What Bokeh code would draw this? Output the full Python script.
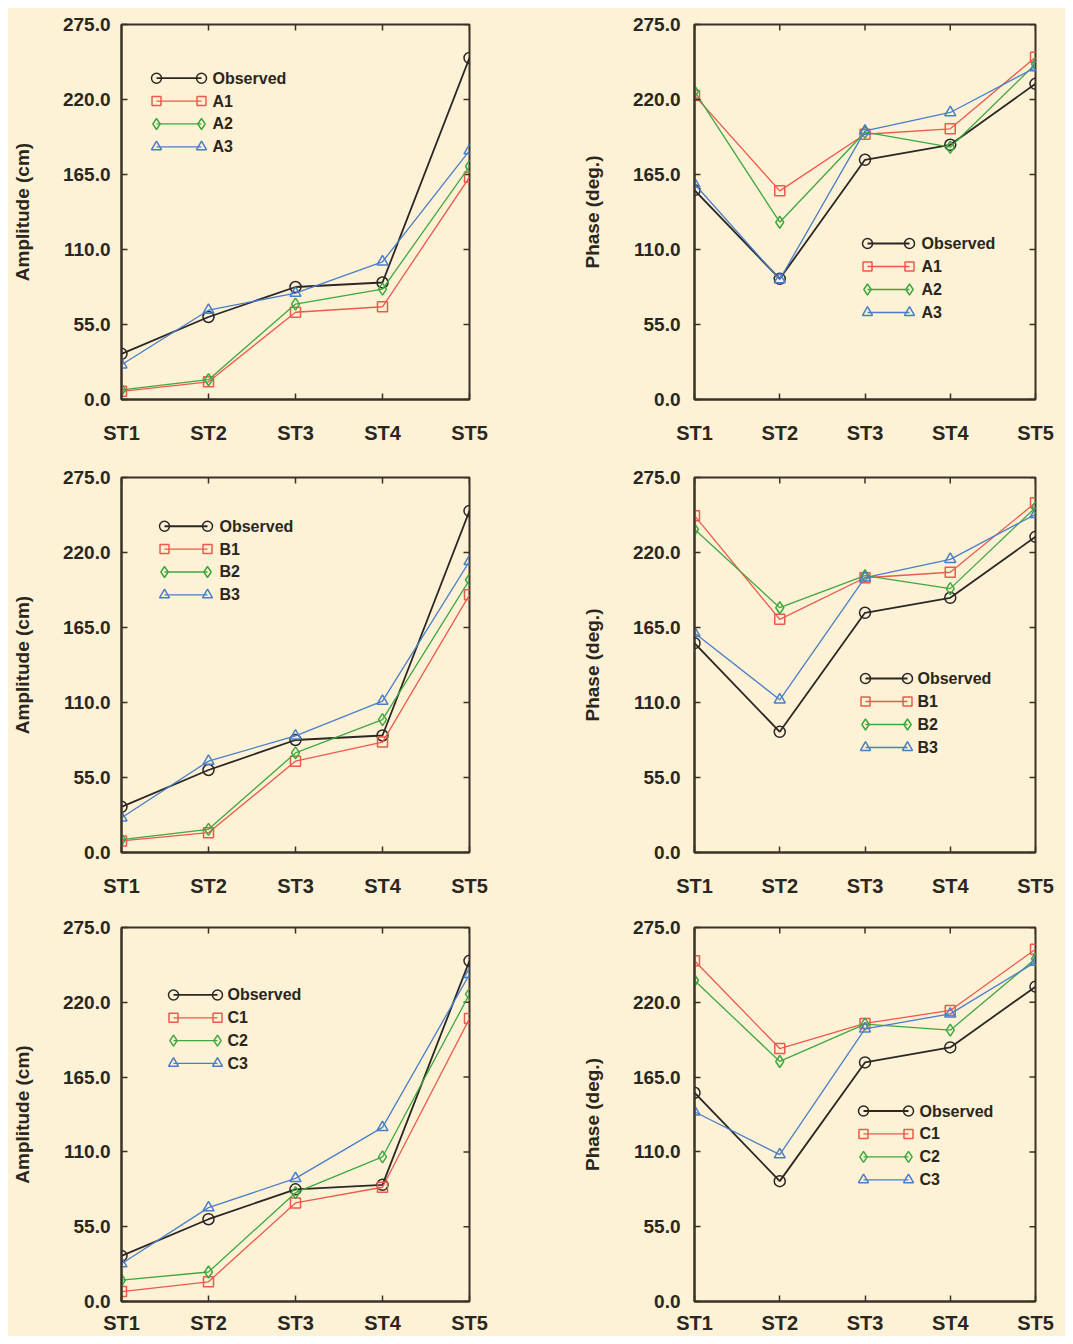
from bokeh.plotting import figure
from bokeh.layouts import column, row
from bokeh.models import Range1d, FixedTicker, PrintfTickFormatter, Spacer
from bokeh.core.properties import value
from bokeh.embed import file_html
from bokeh.resources import INLINE

# ---------------- data ----------------
STATIONS = ["ST1", "ST2", "ST3", "ST4", "ST5"]
Y_TICKS = [0, 55, 110, 165, 220, 275]

AMP_OBSERVED = [33.5, 60.5, 82.5, 85.8, 250.5]
PHASE_OBSERVED = [153.5, 88.5, 175.8, 186.8, 231.5]

AMP_A1 = [6.0, 13.0, 64.0, 68.0, 163.0]
AMP_A2 = [7.0, 14.5, 70.0, 81.0, 171.0]
AMP_A3 = [25.5, 65.5, 78.0, 101.0, 182.5]

AMP_B1 = [8.5, 14.5, 67.0, 81.0, 189.0]
AMP_B2 = [9.5, 17.0, 73.0, 97.5, 200.0]
AMP_B3 = [25.5, 67.0, 85.5, 111.0, 213.5]

AMP_C1 = [7.3, 14.5, 72.5, 84.0, 208.0]
AMP_C2 = [15.7, 21.7, 80.0, 106.3, 226.0]
AMP_C3 = [27.8, 69.0, 90.5, 128.0, 240.5]

PHASE_A1 = [223.0, 153.0, 194.5, 198.5, 251.0]
PHASE_A2 = [226.0, 130.0, 196.0, 185.0, 246.0]
PHASE_A3 = [158.0, 88.0, 197.0, 210.5, 243.5]

PHASE_B1 = [247.0, 171.0, 201.5, 205.5, 256.5]
PHASE_B2 = [237.0, 179.5, 203.0, 193.5, 253.0]
PHASE_B3 = [161.0, 112.0, 201.5, 215.0, 248.0]

PHASE_C1 = [250.5, 186.0, 204.5, 214.0, 259.0]
PHASE_C2 = [236.0, 176.5, 204.0, 199.5, 252.0]
PHASE_C3 = [139.5, 108.0, 200.5, 211.5, 249.5]

# ---------------- style ----------------
BG = "#fdf1d6"
FRAME = "#3a3226"
TEXT = "#2a2620"
FONT = "Liberation Sans"
COLORS = ["#2b2724", "#ec5a4c", "#3fa83f", "#4a7fc8"]
MARKERS = ["circle", "square", "diamond", "triangle"]
MSIZE = [11, 10, 12, 11]
LWIDTH = [1.8, 1.3, 1.3, 1.3]
TICK_PX = 6

X_POS = list(range(len(STATIONS)))
Y_MAX = Y_TICKS[-1]
ROW_H = [453, 450, 425]


def make_panel(ylabel, observed, series, col, row_idx, legend_px):
    if col == 0:
        width, b_left, b_right, b_top, frame_h, lab_standoff, ax_standoff = 481, 113, 20, 14, 377, 11, 27
    else:
        width, b_left, b_right, b_top, frame_h, lab_standoff, ax_standoff = 576, 205, 30, 16, 375, 14, 27
    height = ROW_H[row_idx]
    b_bottom = height - b_top - frame_h
    frame_w = width - b_left - b_right
    x_standoff = 22 if row_idx < 2 else 10

    p = figure(width=width, height=height,
               x_range=Range1d(X_POS[0], X_POS[-1]), y_range=Range1d(0, Y_MAX),
               output_backend="svg", toolbar_location=None,
               background_fill_color=BG, border_fill_color=BG,
               min_border_left=b_left, min_border_right=b_right,
               min_border_top=b_top, min_border_bottom=b_bottom,
               styles={"background-color": BG})
    p.xgrid.visible = False
    p.ygrid.visible = False
    p.outline_line_color = FRAME
    p.outline_line_width = 2
    p.outline_line_alpha = 1.0

    xa = p.xaxis[0]
    xa.ticker = FixedTicker(ticks=X_POS)
    xa.major_label_overrides = {i: s for i, s in zip(X_POS, STATIONS)}
    xa.major_label_text_font = FONT
    xa.major_label_text_font_style = "bold"
    xa.major_label_text_font_size = "20px"
    xa.major_label_text_color = TEXT
    xa.major_label_standoff = x_standoff

    ya = p.yaxis[0]
    ya.ticker = FixedTicker(ticks=Y_TICKS)
    ya.formatter = PrintfTickFormatter(format="%.1f")
    ya.major_label_text_font = FONT
    ya.major_label_text_font_style = "bold"
    ya.major_label_text_font_size = "19px"
    ya.major_label_text_color = TEXT
    ya.major_label_standoff = lab_standoff
    ya.axis_label = ylabel
    ya.axis_label_text_font = FONT
    ya.axis_label_text_font_style = "bold"
    ya.axis_label_text_font_size = "19px"
    ya.axis_label_text_color = TEXT
    ya.axis_label_standoff = ax_standoff

    for ax in [xa, ya]:
        ax.major_tick_in = TICK_PX
        ax.major_tick_out = 0
        ax.minor_tick_in = 0
        ax.minor_tick_out = 0
        ax.major_tick_line_color = FRAME
        ax.major_tick_line_width = 1.5
        ax.axis_line_color = FRAME
        ax.axis_line_width = 2

    # mirrored inward ticks on the top and right edges
    tx = TICK_PX / frame_w * (X_POS[-1] - X_POS[0])
    ty = TICK_PX / frame_h * Y_MAX
    p.segment(x0=X_POS, y0=[Y_MAX] * len(X_POS), x1=X_POS, y1=[Y_MAX - ty] * len(X_POS),
              line_color=FRAME, line_width=1.5)
    p.segment(x0=[X_POS[-1]] * len(Y_TICKS), y0=Y_TICKS, x1=[X_POS[-1] - tx] * len(Y_TICKS),
              y1=Y_TICKS, line_color=FRAME, line_width=1.5)

    names = ["Observed"] + [s[0] for s in series]
    values = [observed] + [s[1] for s in series]

    for i, (name, vals) in enumerate(zip(names, values)):
        p.line(X_POS, vals, line_color=COLORS[i], line_width=LWIDTH[i])
        p.scatter(X_POS, vals, marker=MARKERS[i], size=MSIZE[i],
                  line_color=COLORS[i], line_width=1.5, fill_alpha=0)

    # gnuplot-style key (line with a marker at each end), positioned in pixels
    dx0, dx1, dxt, dy0, step = legend_px
    to_x = lambda dx: X_POS[0] + dx / frame_w * (X_POS[-1] - X_POS[0])
    to_y = lambda dy: Y_MAX - dy / frame_h * Y_MAX
    for i, name in enumerate(names):
        yy = to_y(dy0 + i * step)
        xs = [to_x(dx0), to_x(dx1)]
        p.line(xs, [yy, yy], line_color=COLORS[i], line_width=LWIDTH[i])
        p.scatter(xs, [yy, yy], marker=MARKERS[i], size=MSIZE[i] - 1,
                  line_color=COLORS[i], line_width=1.5, fill_alpha=0)
        p.text([to_x(dxt)], [yy], text=[name], text_font=value(FONT),
               text_font_style="bold", text_font_size="16px", text_color=TEXT,
               text_align="left", text_baseline="middle")
    return p


p1 = make_panel("Amplitude (cm)", AMP_OBSERVED,
                [("A1", AMP_A1), ("A2", AMP_A2), ("A3", AMP_A3)], 0, 0, (35, 80, 91, 54, 23))
p2 = make_panel("Phase (deg.)", PHASE_OBSERVED,
                [("A1", PHASE_A1), ("A2", PHASE_A2), ("A3", PHASE_A3)], 1, 0, (173, 215, 227, 219, 23))
p3 = make_panel("Amplitude (cm)", AMP_OBSERVED,
                [("B1", AMP_B1), ("B2", AMP_B2), ("B3", AMP_B3)], 0, 1, (43, 86, 98, 49, 23))
p4 = make_panel("Phase (deg.)", PHASE_OBSERVED,
                [("B1", PHASE_B1), ("B2", PHASE_B2), ("B3", PHASE_B3)], 1, 1, (171, 213, 223, 201, 23))
p5 = make_panel("Amplitude (cm)", AMP_OBSERVED,
                [("C1", AMP_C1), ("C2", AMP_C2), ("C3", AMP_C3)], 0, 2, (52, 96, 106, 68, 23))
p6 = make_panel("Phase (deg.)", PHASE_OBSERVED,
                [("C1", PHASE_C1), ("C2", PHASE_C2), ("C3", PHASE_C3)], 1, 2, (169, 214, 225, 184, 23))

bgs = {"background-color": BG}
grid = column(row(p1, p2, spacing=0, styles=bgs),
              row(p3, p4, spacing=0, styles=bgs),
              row(p5, p6, spacing=0, styles=bgs),
              spacing=0, styles=bgs)
layout = column(Spacer(height=8, width=8), row(Spacer(width=8, height=8), grid), spacing=0)
open("out.html", "w").write(file_html(layout, INLINE))
